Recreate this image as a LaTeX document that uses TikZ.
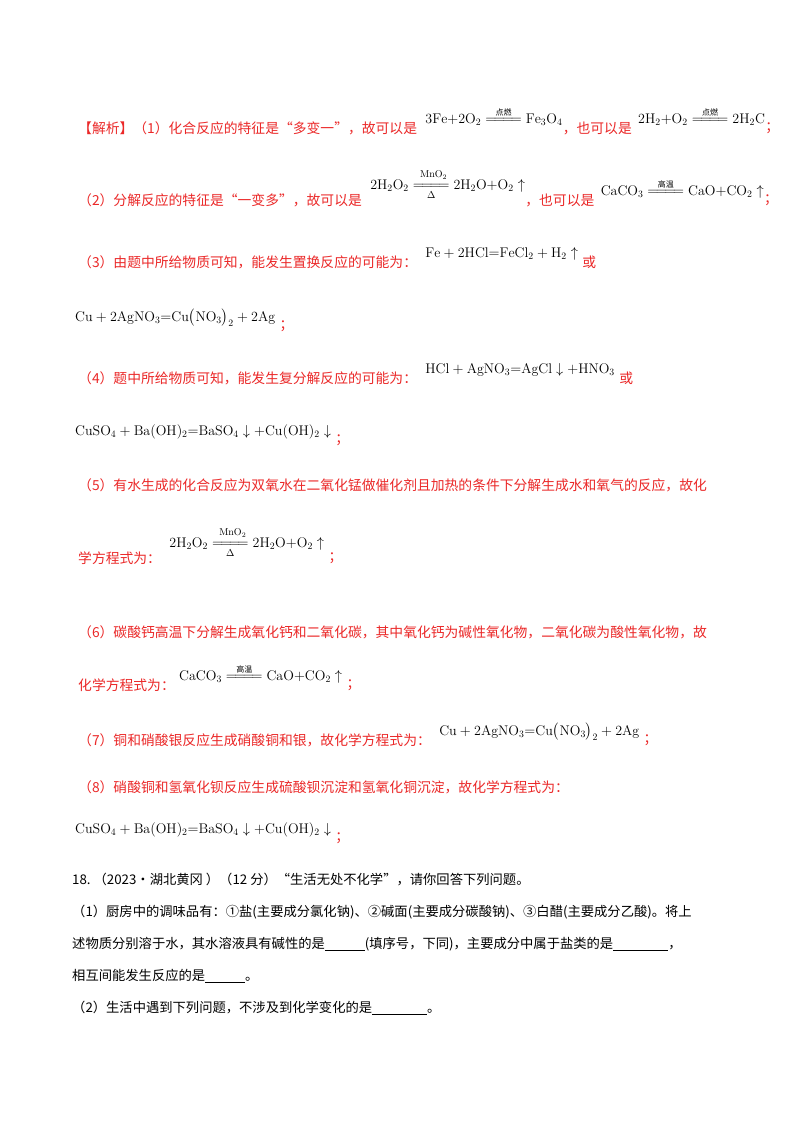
\documentclass[tikz,border=0pt]{standalone}
\usepackage{amsmath}
\usepackage{fontspec}
\newfontfamily\cjk{Noto Sans CJK SC}
\definecolor{ans}{RGB}{235,40,40}
\newcommand{\rx}[2]{\mathrel{\overset{\text{\cjk\footnotesize #1}}{\underset{#2}{=\joinrel=\joinrel=\joinrel=}}}}
\newcommand{\blank}[1]{\rule[-2pt]{#1}{0.8pt}}
\begin{document}
\begin{tikzpicture}[x=1pt,y=-1pt,
  rt/.style={anchor=west,text=ans,font=\cjk\fontsize{13.8}{16}\selectfont,inner sep=0},
  bt/.style={anchor=west,text=black,font=\cjk\fontsize{13.3}{16}\selectfont,inner sep=0},
  eq/.style={anchor=west,text=black,font=\fontsize{14}{16}\selectfont,inner sep=0},
  mn/.style={text=black,font=\fontsize{10}{11}\selectfont,inner sep=0}]
\useasboundingbox[fill=white] (0,0) rectangle (800,1132);
\node[rt] (t1) at (78,128) {【解析】（1）化合反应的特征是“多变一”，故可以是};
\node[eq] (e1) at ([xshift=8,yshift=8]t1.east) {$\mathrm{3Fe{+}2O_2}\rx{点燃}{}\mathrm{Fe_3O_4}$};
\node[rt] (t1b) at ([yshift=-8]e1.east) {，也可以是};
\node[eq] (e1b) at ([xshift=6,yshift=8]t1b.east) {$\mathrm{2H_2{+}O_2}\rx{点燃}{}\mathrm{2H_2C}$};
\node[rt] (t1c) at ([yshift=-8]e1b.east) {；};
\node[rt] (t2) at (78,200) {（2）分解反应的特征是“一变多”，故可以是};
\node[eq] (e2) at ([xshift=8,yshift=10]t2.east) {$\mathrm{2H_2O_2}\rx{}{\Delta}\mathrm{2H_2O{+}O_2}\uparrow$};
\node[mn] at ([xshift=-14,yshift=15]e2.center) {$\mathrm{MnO_2}$};
\node[rt] (t2b) at ([yshift=-10]e2.east) {，也可以是};
\node[eq] (e2b) at ([xshift=6,yshift=8]t2b.east) {$\mathrm{CaCO_3}\rx{高温}{}\mathrm{CaO{+}CO_2}\uparrow$};
\node[rt] (t2c) at ([yshift=-8]e2b.east) {；};
\node[rt] (t3) at (78,262) {（3）由题中所给物质可知，能发生置换反应的可能为：};
\node[eq] (e3) at ([xshift=8,yshift=8]t3.east) {$\mathrm{Fe+2HCl{=}FeCl_2+H_2}\uparrow$};
\node[rt] (t3b) at ([xshift=4,yshift=-8]e3.east) {或};
\node[eq] (e4) at (75,318) {$\mathrm{Cu+2AgNO_3{=}Cu\big(NO_3\big)_2+2Ag}$};
\node[rt] (t4b) at ([xshift=4,yshift=-8]e4.east) {；};
\node[rt] (t5) at (78,378) {（4）题中所给物质可知，能发生复分解反应的可能为：};
\node[eq] (e5) at ([xshift=8,yshift=8]t5.east) {$\mathrm{HCl+AgNO_3{=}AgCl}\downarrow\mathrm{+HNO_3}$};
\node[rt] (t5b) at ([xshift=4,yshift=-8]e5.east) {或};
\node[eq] (e6) at (75,432) {$\mathrm{CuSO_4+Ba(OH)_2{=}BaSO_4}\downarrow\mathrm{+Cu(OH)_2}\downarrow$};
\node[rt] (t6b) at ([xshift=4,yshift=-8]e6.east) {；};
\node[rt] (t7) at (78,485) {（5）有水生成的化合反应为双氧水在二氧化锰做催化剂且加热的条件下分解生成水和氧气的反应，故化};
\node[rt] (t8) at (78,558) {学方程式为：};
\node[eq] (e8) at ([xshift=8,yshift=10]t8.east) {$\mathrm{2H_2O_2}\rx{}{\Delta}\mathrm{2H_2O{+}O_2}\uparrow$};
\node[mn] at ([xshift=-14,yshift=15]e8.center) {$\mathrm{MnO_2}$};
\node[rt] (t8b) at ([xshift=4,yshift=-10]e8.east) {；};
\node[rt] (t9) at (78,632) {（6）碳酸钙高温下分解生成氧化钙和二氧化碳，其中氧化钙为碱性氧化物，二氧化碳为酸性氧化物，故};
\node[rt] (t10) at (78,685) {化学方程式为：};
\node[eq] (e10) at ([xshift=4,yshift=8]t10.east) {$\mathrm{CaCO_3}\rx{高温}{}\mathrm{CaO{+}CO_2}\uparrow$};
\node[rt] (t10b) at ([xshift=4,yshift=-8]e10.east) {；};
\node[rt] (t11) at (78,740) {（7）铜和硝酸银反应生成硝酸铜和银，故化学方程式为：};
\node[eq] (e11) at ([xshift=8,yshift=8]t11.east) {$\mathrm{Cu+2AgNO_3{=}Cu\big(NO_3\big)_2+2Ag}$};
\node[rt] (t11b) at ([xshift=4,yshift=-8]e11.east) {；};
\node[rt] (t12) at (78,787) {（8）硝酸铜和氢氧化钡反应生成硫酸钡沉淀和氢氧化铜沉淀，故化学方程式为：};
\node[eq] (e12) at (75,830) {$\mathrm{CuSO_4+Ba(OH)_2{=}BaSO_4}\downarrow\mathrm{+Cu(OH)_2}\downarrow$};
\node[rt] (t12b) at ([xshift=4,yshift=-8]e12.east) {；};
\node[bt] (q1) at (72,880) {18.\ （2023·湖北黄冈\ ）（12 分）“生活无处不化学”，请你回答下列问题。};
\node[bt] (q2) at (72,912) {（1）厨房中的调味品有：①盐(主要成分氯化钠)、②碱面(主要成分碳酸钠)、③白醋(主要成分乙酸)。将上};
\node[bt] (q3) at (72,944) {述物质分别溶于水，其水溶液具有碱性的是\blank{40pt}(填序号，下同)，主要成分中属于盐类的是\blank{55pt}，};
\node[bt] (q4) at (72,976) {相互间能发生反应的是\blank{40pt}。};
\node[bt] (q5) at (72,1008) {（2）生活中遇到下列问题，不涉及到化学变化的是\blank{55pt}。};
\end{tikzpicture}
\end{document}
